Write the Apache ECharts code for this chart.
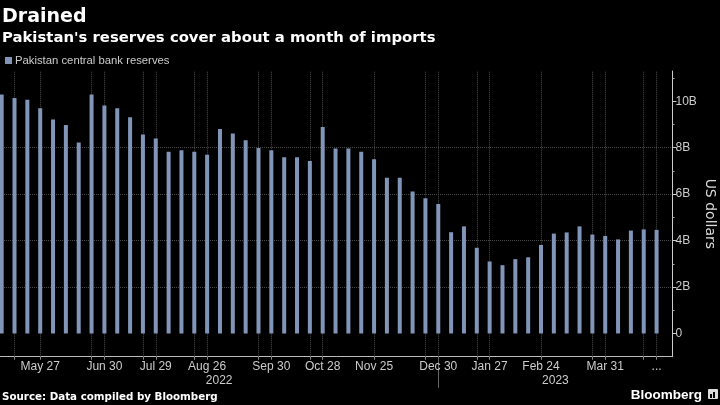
<!DOCTYPE html>
<html>
<head>
<meta charset="utf-8">
<script src="https://cdn.jsdelivr.net/npm/echarts@6/dist/echarts.min.js"></script>
<style>
html,body{margin:0;padding:0;background:#000;}
#chart{width:720px;height:405px;}
</style>
</head>
<body>
<div id="chart"></div>
<script>
// Weekly observation dates (categories)
const categories = [
  "2022-05-06","2022-05-13","2022-05-20","2022-05-27","2022-06-03","2022-06-10","2022-06-17","2022-06-24",
  "2022-06-30","2022-07-08","2022-07-15","2022-07-22","2022-07-29","2022-08-05","2022-08-12","2022-08-19",
  "2022-08-26","2022-09-02","2022-09-09","2022-09-16","2022-09-23","2022-09-30","2022-10-07","2022-10-14",
  "2022-10-21","2022-10-28","2022-11-04","2022-11-11","2022-11-18","2022-11-25","2022-12-02","2022-12-09",
  "2022-12-16","2022-12-23","2022-12-30","2023-01-06","2023-01-13","2023-01-20","2023-01-27","2023-02-03",
  "2023-02-10","2023-02-17","2023-02-24","2023-03-03","2023-03-10","2023-03-17","2023-03-24","2023-03-31",
  "2023-04-07","2023-04-14","2023-04-21","2023-04-28"
];
// Pakistan central bank reserves, billions of US dollars
const reserves = [
  10.29,10.14,10.06,9.70,9.21,8.98,8.22,10.29,
  9.81,9.70,9.31,8.57,8.39,7.82,7.89,7.82,
  7.69,8.80,8.61,8.32,7.99,7.89,7.59,7.59,
  7.43,8.89,7.96,7.96,7.82,7.50,6.70,6.70,
  6.11,5.82,5.57,4.36,4.61,3.69,3.10,2.94,
  3.20,3.28,3.81,4.30,4.35,4.61,4.26,4.20,
  4.05,4.43,4.48,4.46
];
// X tick labels
const tickDates = ["2022-05-27","2022-06-30","2022-07-29","2022-08-26","2022-09-30","2022-10-28",
  "2022-11-25","2022-12-30","2023-01-27","2023-02-24","2023-03-31","2023-04-28"];
const tickText = ["May 27","Jun 30","Jul 29","Aug 26","Sep 30","Oct 28","Nov 25","Dec 30","Jan 27","Feb 24","Mar 31","..."];
// Vertical grid lines
const gridDates = ["2022-05-13","2022-05-27","2022-06-24","2022-06-30","2022-07-22","2022-07-29","2022-08-19",
  "2022-08-26","2022-09-23","2022-09-30","2022-10-21","2022-10-28","2022-11-25","2022-12-23","2022-12-30",
  "2023-01-20","2023-01-27","2023-02-24","2023-03-24","2023-03-31","2023-04-21","2023-04-28"];
const years = ["2022","2023"];
// Y axis ticks
const yTicks = [0,2,4,6,8,10];
const yMinorTicks = [1,3,5,7,9,11];

const X_MIN = -0.13, X_MAX = 52.24;
const idx = d => categories.indexOf(d);
const yearEnd = categories.filter(d => d.startsWith(years[0])).length - 1;
const yearCenters = [(X_MIN + yearEnd) / 2, (yearEnd + X_MAX) / 2];

const chart = echarts.init(document.getElementById('chart'), null, {renderer: 'canvas'});
const axisFont = 'Liberation Sans, Arial, sans-serif';
const GRID_RIGHT = 47.5;
const option = {
  backgroundColor: '#000',
  animation: false,
  title: [
    {text: 'Drained', left: 2, top: 8, padding: 0,
     textStyle: {color: '#fff', fontSize: 19, fontWeight: 'bold', fontFamily: 'DejaVu Sans'}},
    {text: "Pakistan's reserves cover about a month of imports", left: 2, top: 31, padding: 0,
     textStyle: {color: '#fff', fontSize: 14.85, fontWeight: 'bold', fontFamily: 'DejaVu Sans'}},
    {text: 'Source: Data compiled by Bloomberg', left: 2, top: 392, padding: 0,
     textStyle: {color: '#fff', fontSize: 10.3, fontWeight: 'bold', fontFamily: 'DejaVu Sans'}},
    {text: 'Bloomberg', right: 18, top: 388, padding: 0,
     textStyle: {color: '#fff', fontSize: 13.5, fontWeight: 'bold', fontFamily: axisFont}}
  ],
  graphic: [
    {type: 'rect', right: 2, top: 389, shape: {width: 10, height: 10, r: 1}, style: {fill: '#ddd'}},
    {type: 'rect', right: 8, top: 394, shape: {width: 2, height: 4}, style: {fill: '#000'}},
    {type: 'rect', right: 5, top: 392, shape: {width: 2, height: 6}, style: {fill: '#000'}}
  ],
  legend: {
    left: 5, top: 55, padding: 0, icon: 'rect', itemWidth: 7, itemHeight: 7, itemGap: 10,
    textStyle: {color: '#ccc', fontSize: 11.3, fontFamily: axisFont, padding: [0,0,0,-2]},
    data: ['Pakistan central bank reserves']
  },
  grid: {left: 0, right: GRID_RIGHT, top: 71, bottom: 48.3, containLabel: false, outerBoundsMode: 'none'},
  xAxis: [
    {
      type: 'value', min: X_MIN, max: X_MAX, position: 'bottom',
      axisLine: {show: true, onZero: false, lineStyle: {color: '#bbb', width: 1}},
      axisTick: {show: true, customValues: gridDates.map(idx), length: 3, lineStyle: {color: '#888'}},
      axisLabel: {
        customValues: tickDates.map(idx), color: '#ccc', fontSize: 12, fontFamily: axisFont, margin: 4,
        formatter: v => tickText[tickDates.indexOf(categories[Math.round(v)])] || ''
      },
      splitLine: {show: false}
    },
    {
      type: 'value', min: X_MIN, max: X_MAX, position: 'top', offset: -285.7,
      axisLine: {show: false},
      axisTick: {show: true, inside: true, customValues: [yearEnd], length: 31, lineStyle: {color: '#666'}},
      axisLabel: {
        inside: true,
        customValues: yearCenters, color: '#ccc', fontSize: 12, fontFamily: axisFont, margin: 18,
        formatter: v => (v < yearEnd ? years[0] : years[1])
      },
      splitLine: {show: false}
    }
  ],
  yAxis: [
    {
      type: 'value', min: -1, max: 11.3, splitNumber: 6, position: 'right',
      axisLine: {show: true, onZero: false, lineStyle: {color: '#ccc', width: 1}},
      axisTick: {show: true, customValues: yTicks, length: 4, lineStyle: {color: '#ccc'}},
      axisLabel: {customValues: yTicks, color: '#ccc', fontSize: 12, fontFamily: axisFont, margin: 3,
        formatter: v => (v === 0 ? '0' : v + 'B')},
      splitLine: {show: true, showMaxLine: false, showMinLine: false,
        lineStyle: {color: '#4a4a4a', type: 'dotted', width: 1}},
      name: 'US dollars', nameLocation: 'middle', nameRotate: -90, nameGap: 30, nameMoveOverlap: false,
      nameTextStyle: {color: '#ddd', fontSize: 14, fontFamily: 'DejaVu Sans'}
    },
    {
      type: 'value', min: -1, max: 11.3, position: 'left', offset: -(720 - GRID_RIGHT),
      axisLine: {show: false},
      axisTick: {show: true, inside: true, customValues: yMinorTicks, length: 2, lineStyle: {color: '#aaa'}},
      axisLabel: {show: false},
      splitLine: {show: false}
    }
  ],
  series: [
    {
      name: 'Pakistan central bank reserves',
      type: 'bar',
      xAxisIndex: 0, yAxisIndex: 0,
      barWidth: 4,
      z: 3,
      itemStyle: {color: '#8095b7'},
      data: reserves.map((v, i) => [i, v]),
      markLine: {
        z: 1, silent: true, symbol: 'none', animation: false,
        label: {show: false},
        lineStyle: {color: '#4a4a4a', type: 'dotted', width: 1},
        emphasis: {disabled: true},
        data: gridDates.map(d => ({xAxis: idx(d)}))
      }
    }
  ]
};
chart.setOption(option);
</script>
</body>
</html>
